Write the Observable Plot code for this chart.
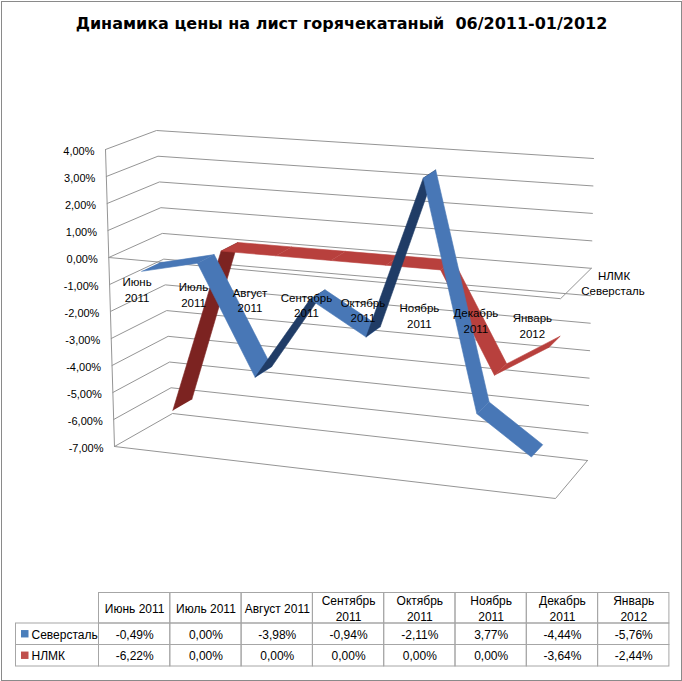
<!DOCTYPE html>
<html>
<head>
<meta charset="utf-8">
<script src="https://cdn.jsdelivr.net/npm/d3@7"></script>
<script src="https://cdn.jsdelivr.net/npm/@observablehq/plot@0.6"></script>
<style>
  html, body { margin: 0; padding: 0; background: #fff; }
  #chart svg { display: block; }
</style>
</head>
<body>
<div id="chart"></div>
<script>
// ---------------- data ----------------
const title = "Динамика цены на лист горячекатаный  06/2011-01/2012";
const categories = ["Июнь 2011", "Июль 2011", "Август 2011", "Сентябрь 2011", "Октябрь 2011", "Ноябрь 2011", "Декабрь 2011", "Январь 2012"];
const tableHeaders = ["Июнь 2011", "Июль 2011", "Август 2011", "Сентябрь\n2011", "Октябрь\n2011", "Ноябрь\n2011", "Декабрь\n2011", "Январь\n2012"];
const seriesNames = ["Северсталь", "НЛМК"];
const severstal = [-0.49, 0.00, -3.98, -0.94, -2.11, 3.77, -4.44, -5.76];
const nlmk = [-6.22, 0.00, 0.00, 0.00, 0.00, 0.00, -3.64, -2.44];
const valueTicks = [4, 3, 2, 1, 0, -1, -2, -3, -4, -5, -6, -7];

// ---------------- style / layout ----------------
const W = 682, H = 681;
const VMIN = -7, VMAX = 4;
const FRONT = {tl: [105, 149], tr: [563, 184], bl: [114, 446], br: [555, 498]};
const BACK  = {tl: [156, 130], tr: [593, 158], bl: [172, 413], br: [587, 460]};
const seriesStyle = [
  {top: "#4877b6", under: "#203c66", legend: "#4a7ebb", d0: 0.08, d1: 0.42},
  {top: "#b8403d", under: "#7c2321", legend: "#c0504d", d0: 0.56, d1: 0.90}
];
const gridColor = "#959595";
const FONT = "Liberation Sans, Arial, sans-serif";

const fmt = v => v.toFixed(2).replace(".", ",") + "%";
const ucat = i => (i + 0.5) / categories.length;
const lerp = (a, b, t) => [a[0] + (b[0] - a[0]) * t, a[1] + (b[1] - a[1]) * t];
function plane(pl, u, v) {
  const w = (v - VMIN) / (VMAX - VMIN);
  return lerp(lerp(pl.bl, pl.br, u), lerp(pl.tl, pl.tr, u), w);
}
function P(u, v, d) { return lerp(plane(FRONT, u, v), plane(BACK, u, v), d); }

// gridlines (left wall + back wall)
const grid = [];
valueTicks.forEach(v => {
  [P(0, v, 0), P(0, v, 1), P(1, v, 1)].forEach(p => grid.push({x: p[0], y: p[1], z: "g" + v}));
});
// axis / floor edges
const axes = [];
const addPath = (id, pts) => pts.forEach(p => axes.push({x: p[0], y: p[1], z: id}));
addPath("vaxis", [P(0, VMIN, 0), P(0, VMAX, 0)]);
addPath("caxis", [P(0, 0, 0), P(1, 0, 0), P(1, 0, 1)]);
addPath("floor", [P(0, VMIN, 0), P(1, VMIN, 0), P(1, VMIN, 1)]);

// ribbons: back series first
const seriesValues = [severstal, nlmk];
const ribbons = [];
[1, 0].forEach(si => {
  const vals = seriesValues[si], st = seriesStyle[si];
  for (let i = 0; i < vals.length - 1; i++) {
    const F0 = P(ucat(i), vals[i], st.d0), F1 = P(ucat(i + 1), vals[i + 1], st.d0);
    const B1 = P(ucat(i + 1), vals[i + 1], st.d1), B0 = P(ucat(i), vals[i], st.d1);
    const poly = [F0, F1, B1, B0];
    let area = 0;
    for (let k = 0; k < 4; k++) {
      const a = poly[k], b = poly[(k + 1) % 4];
      area += a[0] * b[1] - b[0] * a[1];
    }
    const color = area < 0 ? st.top : st.under;
    poly.forEach(p => ribbons.push({x: p[0], y: p[1], z: si + "-" + i, c: color}));
  }
});

// labels
const tickLabels = valueTicks.map(v => { const p = P(0, v, 0); return {x: p[0] - 11, y: p[1] + 1.5, t: fmt(v)}; });
const catLabels = categories.map((c, i) => { const p = P(ucat(i), 0, 0); return {x: p[0], y: p[1] + 29, t: c.replace(" ", "\n")}; });
const depthLabels = seriesNames.map((s, si) => {
  const st = seriesStyle[si];
  const p = P(1, 0, (st.d0 + st.d1) / 2);
  return {x: p[0] + (si === 0 ? 13 : 15), y: p[1], t: s};
});

// data table
const TXL = 15.5, TX0 = 98.5, CW = 71.3, TY = [592.5, 623, 644.5, 666];
const headerCells = tableHeaders.map((h, i) => ({x1: TX0 + i * CW, x2: TX0 + (i + 1) * CW, y1: TY[0], y2: TY[1], t: h}));
const valueCells = [];
const nameCells = [];
seriesValues.forEach((vals, si) => {
  nameCells.push({x1: TXL, x2: TX0, y1: TY[si + 1], y2: TY[si + 2], t: seriesNames[si], c: seriesStyle[si].legend});
  vals.forEach((v, i) => valueCells.push({x1: TX0 + i * CW, x2: TX0 + (i + 1) * CW, y1: TY[si + 1], y2: TY[si + 2], t: fmt(v)}));
});
const allCells = headerCells.concat(nameCells, valueCells);

const chart = Plot.plot({
  width: W, height: H, margin: 0,
  x: {domain: [0, W], range: [0, W], axis: null},
  y: {domain: [0, H], range: [0, H], axis: null},
  color: {type: "identity"},
  style: {background: "#fff"},
  marks: [
    Plot.frame({stroke: "#8a8a8a", inset: 1}),
    Plot.text([title], {x: W / 2, y: 23, text: d => d, fontFamily: "DejaVu Sans, sans-serif", fontWeight: "bold", fontSize: 16, fill: "#000"}),
    Plot.line(grid, {x: "x", y: "y", z: "z", stroke: gridColor, strokeWidth: 1}),
    Plot.line(axes, {x: "x", y: "y", z: "z", stroke: gridColor, strokeWidth: 1}),
    Plot.line(ribbons, {x: "x", y: "y", z: "z", fill: "c", stroke: "c", strokeWidth: 0.6, strokeLinejoin: "round"}),
    Plot.text(tickLabels, {x: "x", y: "y", text: "t", textAnchor: "end", fontFamily: FONT, fontSize: 11, fill: "#000"}),
    Plot.text(catLabels, {x: "x", y: "y", text: "t", lineHeight: 1.36, fontFamily: FONT, fontSize: 11.5, fill: "#000"}),
    Plot.text(depthLabels, {x: "x", y: "y", text: "t", textAnchor: "start", fontFamily: FONT, fontSize: 11.5, fill: "#000"}),
    Plot.rect(allCells, {x1: "x1", x2: "x2", y1: "y1", y2: "y2", fill: "none", stroke: "#a6a6a6", strokeWidth: 1}),
    Plot.text(headerCells, {x: d => (d.x1 + d.x2) / 2, y: d => (d.y1 + d.y2) / 2, text: "t", lineHeight: 1.3, fontFamily: FONT, fontSize: 12, fill: "#000"}),
    Plot.text(valueCells, {x: d => (d.x1 + d.x2) / 2, y: d => (d.y1 + d.y2) / 2 + 0.5, text: "t", fontFamily: FONT, fontSize: 12, fill: "#000"}),
    Plot.rect(nameCells, {x1: d => d.x1 + 5.5, x2: d => d.x1 + 13, y1: d => (d.y1 + d.y2) / 2 - 3.7, y2: d => (d.y1 + d.y2) / 2 + 3.7, fill: "c"}),
    Plot.text(nameCells, {x: d => d.x1 + 15.5, y: d => (d.y1 + d.y2) / 2 + 0.5, text: "t", textAnchor: "start", fontFamily: FONT, fontSize: 12, fill: "#000"})
  ]
});
document.getElementById("chart").appendChild(chart);
</script>
</body>
</html>
